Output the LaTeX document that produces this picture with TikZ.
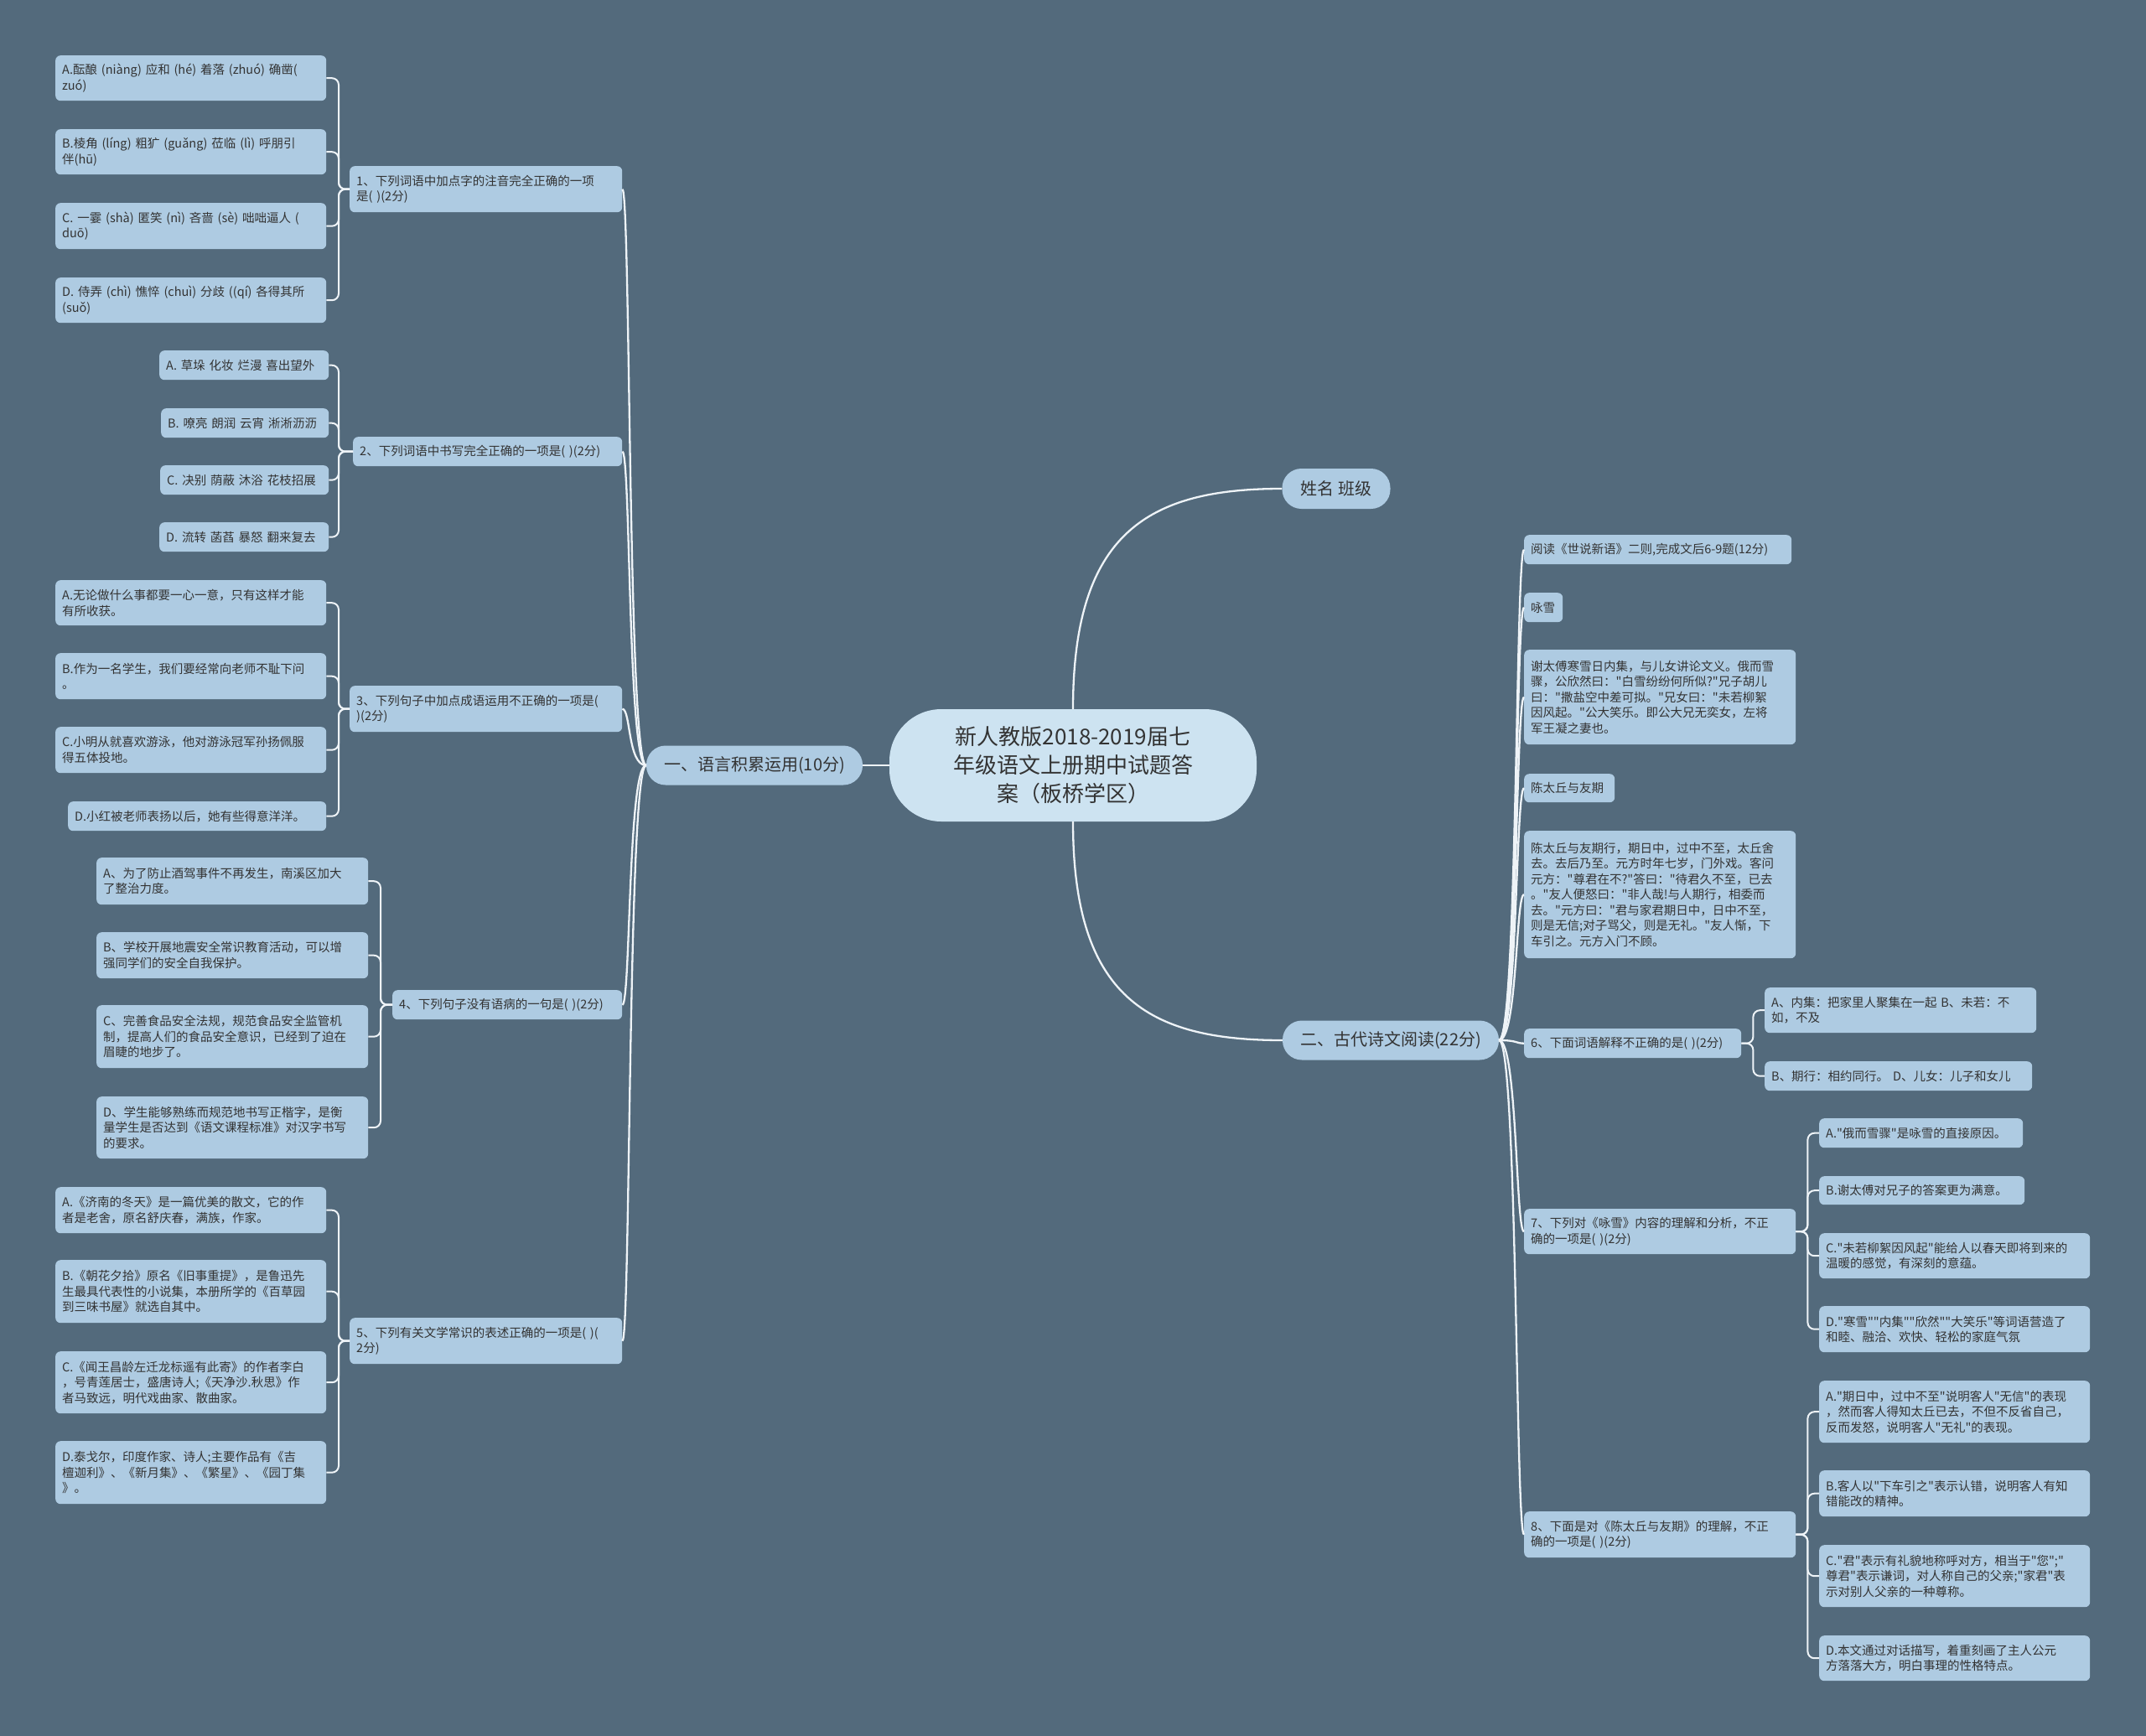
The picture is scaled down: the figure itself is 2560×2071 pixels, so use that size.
\documentclass[tikz,border=0pt]{standalone}
\usepackage{fontspec}
\setmainfont{Noto Sans CJK SC}
\setmonofont{Noto Sans CJK SC}
\newcommand\qt{{\ttfamily\char34}}
\definecolor{bgc}{HTML}{536A7C}
\definecolor{leafc}{HTML}{AECBE2}
\definecolor{rootc}{HTML}{CDE3F1}
\definecolor{txtc}{HTML}{333333}
\definecolor{linec}{HTML}{EEF3F7}
\newcommand\mybox[6]{%
  \pgfmathsetmacro\mbw{#4-#2}%
  \pgfmathsetmacro\mbh{#5-#3}%
  \pgfmathsetmacro\mbt{#4-#2-16}%
  \node[leaf, anchor=north west, minimum width=\mbw pt, minimum height=\mbh pt, text width=\mbt pt] (#1) at (#2,#3) {#6};%
}
\begin{document}
\begin{tikzpicture}[x=1pt,y=-1pt,
  leaf/.style={fill=leafc, rounded corners=6pt, inner xsep=8pt, inner ysep=3pt, align=left, text=txtc, font=\fontsize{14.5}{18.5}\selectfont},
  mainn/.style={fill=leafc, rounded corners=23pt, align=center, text=txtc, font=\fontsize{20}{24}\selectfont, inner sep=0pt},
  rootn/.style={fill=rootc, rounded corners=62pt, align=center, text=txtc, font=\fontsize{26}{34}\selectfont, inner sep=0pt},
  conn/.style={draw=linec, line width=2.3pt},
  elb/.style={draw=linec, line width=2pt, rounded corners=8pt}]
\useasboundingbox (0,0) rectangle (2560,2071);
\fill[bgc] (0,0) rectangle (2560,2071);

% root and main branches
\node[rootn, minimum width=438pt, minimum height=134pt] (root) at (1280,913) {新人教版2018-2019届七\\年级语文上册期中试题答\\案（板桥学区）};
\node[mainn, minimum width=258pt, minimum height=47pt] (l1) at (900,913) {一、语言积累运用(10分)};
\node[mainn, minimum width=129pt, minimum height=48pt] (nm) at (1594,583) {姓名 班级};
\node[mainn, minimum width=258pt, minimum height=47pt] (l2) at (1659,1241) {二、古代诗文阅读(22分)};

\draw[conn] (root.west) -- (l1.east);
\draw[conn] (root.north) .. controls +(0,-210) and +(-160,0) .. (nm.west);
\draw[conn] (root.south) .. controls +(0,210) and +(-160,0) .. (l2.west);

% left groups
\mybox{g1}{417}{198}{742}{253}{1、下列词语中加点字的注音完全正确的一项\\是( )(2分)}
\mybox{g2}{421}{521}{742}{556}{2、下列词语中书写完全正确的一项是( )(2分)}
\mybox{g3}{417}{818}{742}{873}{3、下列句子中加点成语运用不正确的一项是(\\ )(2分)}
\mybox{g4}{468}{1181}{742}{1216}{4、下列句子没有语病的一句是( )(2分)}
\mybox{g5}{417}{1572}{742}{1627}{5、下列有关文学常识的表述正确的一项是( )(\\2分)}

\foreach \g in {g1,g2,g3,g4,g5}{
  \draw[conn] (l1.west) .. controls +(-22,0) and +(10,0) .. (\g.east);
}

% group 1 leaves
\mybox{a1}{66}{66}{389}{120}{A.酝酿~(niàng)~应和~(hé)~着落~(zhuó)~确凿(\\zuó)}
\mybox{b1}{66}{154}{389}{208}{B.棱角~(líng)~粗犷~(guǎng)~莅临~(lì)~呼朋引\\伴(hū)}
\mybox{c1}{66}{242}{389}{297}{C.~一霎~(shà)~匿笑~(nì)~吝啬~(sè)~咄咄逼人~(\\duō)}
\mybox{d1}{66}{331}{389}{385}{D.~侍弄~(chì)~憔悴~(chuì)~分歧~((qí)~各得其所\\(suǒ)}
\foreach \n in {a1,b1,c1,d1}{\draw[elb] (g1.west) -- ++(-13,0) |- (\n.east);}

% group 2 leaves
\mybox{a2}{190}{418}{392}{453}{A.~草垛~化妆~烂漫~喜出望外}
\mybox{b2}{192}{487}{392}{522}{B.~嘹亮~朗润~云宵~淅淅沥沥}
\mybox{c2}{191}{555}{392}{590}{C.~决别~荫蔽~沐浴~花枝招展}
\mybox{d2}{190}{623}{392}{658}{D.~流转~菡萏~暴怒~翻来复去}
\foreach \n in {a2,b2,c2,d2}{\draw[elb] (g2.west) -- ++(-17,0) |- (\n.east);}

% group 3 leaves
\mybox{a3}{66}{692}{389}{746}{A.无论做什么事都要一心一意，只有这样才能\\有所收获。}
\mybox{b3}{66}{779}{389}{834}{B.作为一名学生，我们要经常向老师不耻下问\\。}
\mybox{c3}{66}{867}{389}{922}{C.小明从就喜欢游泳，他对游泳冠军孙扬佩服\\得五体投地。}
\mybox{d3}{81}{956}{389}{991}{D.小红被老师表扬以后，她有些得意洋洋。}
\foreach \n in {a3,b3,c3,d3}{\draw[elb] (g3.west) -- ++(-13,0) |- (\n.east);}

% group 4 leaves
\mybox{a4}{115}{1023}{439}{1079}{A、为了防止酒驾事件不再发生，南溪区加大\\了整治力度。}
\mybox{b4}{115}{1112}{439}{1167}{B、学校开展地震安全常识教育活动，可以增\\强同学们的安全自我保护。}
\mybox{c4}{115}{1199}{439}{1274}{C、完善食品安全法规，规范食品安全监管机\\制，提高人们的食品安全意识，已经到了迫在\\眉睫的地步了。}
\mybox{d4}{115}{1308}{439}{1382}{D、学生能够熟练而规范地书写正楷字，是衡\\量学生是否达到《语文课程标准》对汉字书写\\的要求。}
\foreach \n in {a4,b4,c4,d4}{\draw[elb] (g4.west) -- ++(-14,0) |- (\n.east);}

% group 5 leaves
\mybox{a5}{66}{1416}{389}{1471}{A.《济南的冬天》是一篇优美的散文，它的作\\者是老舍，原名舒庆春，满族，作家。}
\mybox{b5}{66}{1503}{389}{1578}{B.《朝花夕拾》原名《旧事重提》，是鲁迅先\\生最具代表性的小说集，本册所学的《百草园\\到三味书屋》就选自其中。}
\mybox{c5}{66}{1612}{389}{1686}{C.《闻王昌龄左迁龙标遥有此寄》的作者李白\\，号青莲居士，盛唐诗人;《天净沙.秋思》作\\者马致远，明代戏曲家、散曲家。}
\mybox{d5}{66}{1719}{389}{1794}{D.泰戈尔，印度作家、诗人;主要作品有《吉\\檀迦利》、《新月集》、《繁星》、《园丁集\\》。}
\foreach \n in {a5,b5,c5,d5}{\draw[elb] (g5.west) -- ++(-13,0) |- (\n.east);}

% right side
\mybox{r1}{1818}{638}{2137}{673}{阅读《世说新语》二则,完成文后6-9题(12分)}
\mybox{r2}{1818}{707}{1864}{742}{咏雪}
\mybox{r3}{1818}{775}{2142}{888}{谢太傅寒雪日内集，与儿女讲论文义。俄而雪\\骤，公欣然曰：\qt{}白雪纷纷何所似?\qt{}兄子胡儿\\曰：\qt{}撒盐空中差可拟。\qt{}兄女曰：\qt{}未若柳絮\\因风起。\qt{}公大笑乐。即公大兄无奕女，左将\\军王凝之妻也。}
\mybox{r4}{1818}{923}{1926}{957}{陈太丘与友期}
\mybox{r5}{1818}{991}{2142}{1143}{陈太丘与友期行，期日中，过中不至，太丘舍\\去。去后乃至。元方时年七岁，门外戏。客问\\元方：\qt{}尊君在不?\qt{}答曰：\qt{}待君久不至，已去\\。\qt{}友人便怒曰：\qt{}非人哉!与人期行，相委而\\去。\qt{}元方曰：\qt{}君与家君期日中，日中不至，\\则是无信;对子骂父，则是无礼。\qt{}友人惭，下\\车引之。元方入门不顾。}
\mybox{r6}{1818}{1227}{2077}{1262}{6、下面词语解释不正确的是(~)(2分)}
\mybox{r7}{1818}{1442}{2142}{1496}{7、下列对《咏雪》内容的理解和分析，不正\\确的一项是(~)(2分)}
\mybox{r8}{1818}{1803}{2142}{1858}{8、下面是对《陈太丘与友期》的理解，不正\\确的一项是(~)(2分)}

\foreach \r in {r1,r2,r3,r4,r5,r6,r7,r8}{
  \draw[conn] (l2.east) .. controls +(22,0) and +(-10,0) .. (\r.west);
}

\mybox{r6a}{2105}{1178}{2429}{1232}{A、内集：把家里人聚集在一起~B、未若：不\\如，不及}
\mybox{r6b}{2105}{1266}{2424}{1301}{B、期行：相约同行。~D、儿女：儿子和女儿}
\foreach \n in {r6a,r6b}{\draw[elb] (r6.east) -- ++(14,0) |- (\n.west);}

\mybox{r7a}{2170}{1334}{2413}{1369}{A.\qt{}俄而雪骤\qt{}是咏雪的直接原因。}
\mybox{r7b}{2170}{1403}{2415}{1437}{B.谢太傅对兄子的答案更为满意。}
\mybox{r7c}{2170}{1471}{2493}{1525}{C.\qt{}未若柳絮因风起\qt{}能给人以春天即将到来的\\温暖的感觉，有深刻的意蕴。}
\mybox{r7d}{2170}{1558}{2493}{1613}{D.\qt{}寒雪\qt{}\qt{}内集\qt{}\qt{}欣然\qt{}\qt{}大笑乐\qt{}等词语营造了\\和睦、融洽、欢快、轻松的家庭气氛}
\foreach \n in {r7a,r7b,r7c,r7d}{\draw[elb] (r7.east) -- ++(14,0) |- (\n.west);}

\mybox{r8a}{2170}{1647}{2493}{1721}{A.\qt{}期日中，过中不至\qt{}说明客人\qt{}无信\qt{}的表现\\，然而客人得知太丘已去，不但不反省自己，\\反而发怒，说明客人\qt{}无礼\qt{}的表现。}
\mybox{r8b}{2170}{1754}{2493}{1809}{B.客人以\qt{}下车引之\qt{}表示认错，说明客人有知\\错能改的精神。}
\mybox{r8c}{2170}{1843}{2493}{1917}{C.\qt{}君\qt{}表示有礼貌地称呼对方，相当于\qt{}您\qt{};\qt{}\\尊君\qt{}表示谦词，对人称自己的父亲;\qt{}家君\qt{}表\\示对别人父亲的一种尊称。}
\mybox{r8d}{2170}{1951}{2493}{2005}{D.本文通过对话描写，着重刻画了主人公元\\方落落大方，明白事理的性格特点。}
\foreach \n in {r8a,r8b,r8c,r8d}{\draw[elb] (r8.east) -- ++(14,0) |- (\n.west);}
\end{tikzpicture}
\end{document}
